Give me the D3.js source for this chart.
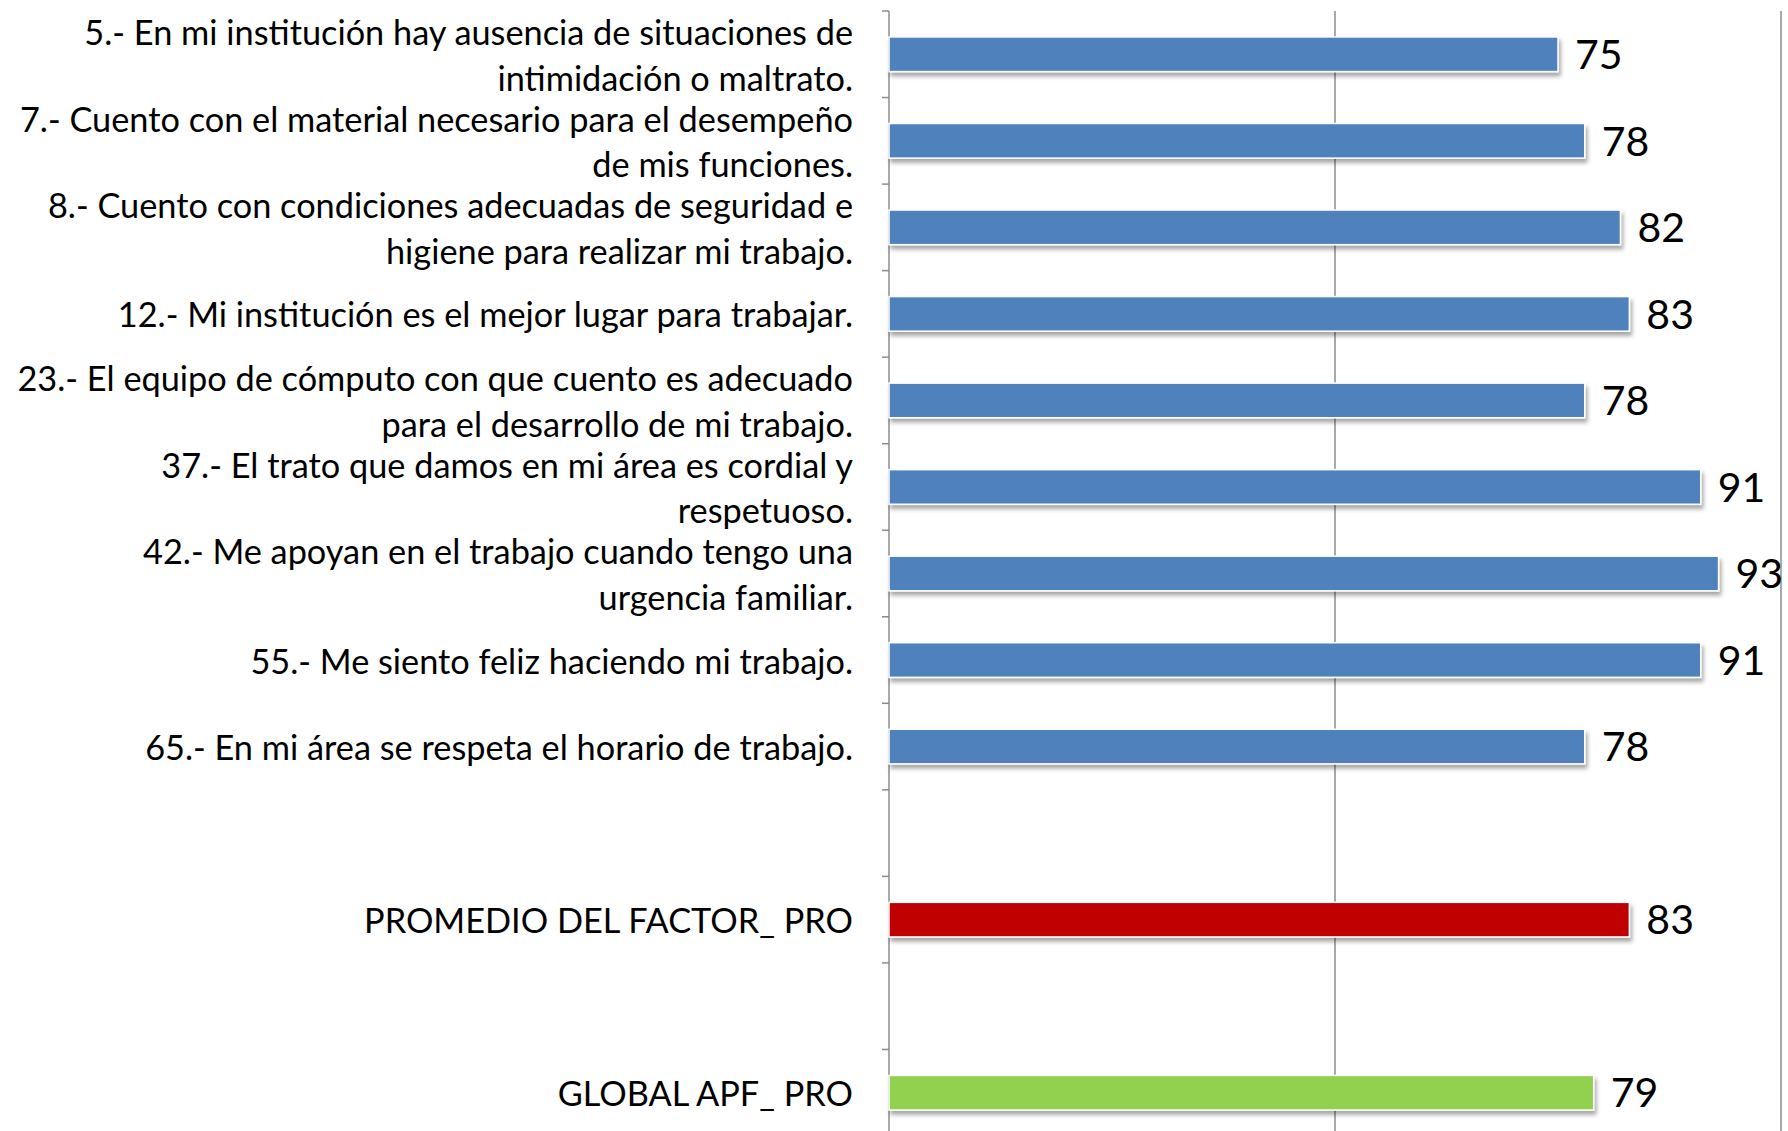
<!DOCTYPE html>
<html>
<head>
<meta charset="utf-8">
<script src="https://cdn.jsdelivr.net/npm/d3@7"></script>
<style>
body { margin: 0; background: #fff; }
.label { font-family: Lato, sans-serif; font-size: 34.3px; fill: #000; }
.value { font-family: Lato, sans-serif; font-size: 41px; fill: #000; }
.grid line { stroke: #8c8c8c; stroke-width: 1.5px; }
.axis line { stroke: #8c8c8c; stroke-width: 1.5px; }
</style>
</head>
<body>
<svg id="chart" width="1788" height="1131"></svg>
<script>

/// Categories (top to bottom), blanks are spacer rows
var keys = ["q5", "q7", "q8", "q12", "q23", "q37", "q42", "q55", "q65", "gap1", "factor", "gap2", "global"];
var labels = [
  ["5.- En mi institución hay ausencia de situaciones de", "intimidación o maltrato."],
  ["7.- Cuento con el material necesario para el desempeño", "de mis funciones."],
  ["8.- Cuento con condiciones adecuadas de seguridad e", "higiene para realizar mi trabajo."],
  ["12.- Mi institución es el mejor lugar para trabajar."],
  ["23.- El equipo de cómputo con que cuento es adecuado", "para el desarrollo de mi trabajo."],
  ["37.- El trato que damos en mi área es cordial y", "respetuoso."],
  ["42.- Me apoyan en el trabajo cuando tengo una", "urgencia familiar."],
  ["55.- Me siento feliz haciendo mi trabajo."],
  ["65.- En mi área se respeta el horario de trabajo."],
  [],
  ["PROMEDIO DEL FACTOR_ PRO"],
  [],
  ["GLOBAL APF_ PRO"]
];
var values = [75, 78, 82, 83, 78, 91, 93, 91, 78, null, 83, null, 79];
var groups = ["item", "item", "item", "item", "item", "item", "item", "item", "item", null, "factor", null, "global"];
var xTicks = [50, 100];

var data = keys.map(function(k, i) {
  return {key: k, lines: labels[i], value: values[i], group: groups[i]};
});

var svg = d3.select("#chart");

var x = d3.scaleLinear()
    .domain([0, 100])
    .range([889, 1781]);

var y = d3.scaleBand()
    .domain(keys)
    .range([11, 1136])
    .paddingInner(0.6)
    .paddingOuter(0.3);

var color = d3.scaleOrdinal()
    .domain(["item", "factor", "global"])
    .range(["#4f81bd", "#c00000", "#92d050"]);

/// Drop shadow for the bars
svg.append("defs").append("filter")
    .attr("id", "shadow")
    .attr("x", "-5%").attr("y", "-30%")
    .attr("width", "110%").attr("height", "180%")
  .append("feDropShadow")
    .attr("dx", 2).attr("dy", 4)
    .attr("stdDeviation", 2)
    .attr("flood-color", "#000")
    .attr("flood-opacity", 0.35);

/// Vertical grid lines
svg.append("g")
    .attr("class", "grid")
  .selectAll("line")
  .data(xTicks)
  .join("line")
    .attr("x1", function(d) { return x(d); })
    .attr("x2", function(d) { return x(d); })
    .attr("y1", y.range()[0])
    .attr("y2", y.range()[1]);

/// Left axis, ticks sit between categories
var gap = (y.step() - y.bandwidth()) / 2;
var boundaries = keys.map(function(k) { return y(k) - gap; });
boundaries.push(y.range()[1]);

var axis = svg.append("g").attr("class", "axis");
axis.append("line")
    .attr("x1", x(0)).attr("x2", x(0))
    .attr("y1", y.range()[0]).attr("y2", y.range()[1]);
axis.selectAll(".tick")
  .data(boundaries)
  .join("line")
    .attr("class", "tick")
    .attr("x1", x(0) - 7).attr("x2", x(0))
    .attr("y1", function(d) { return d; })
    .attr("y2", function(d) { return d; });

/// Bars
var bars = data.filter(function(d) { return d.value != null; });

svg.append("g")
  .selectAll("rect")
  .data(bars)
  .join("rect")
    .attr("x", x(0))
    .attr("y", function(d) { return y(d.key); })
    .attr("width", function(d) { return x(d.value) - x(0); })
    .attr("height", y.bandwidth())
    .attr("fill", function(d) { return color(d.group); })
    .attr("stroke", "#ffffff")
    .attr("stroke-width", 1.5)
    .attr("filter", "url(#shadow)");

/// Value labels
svg.append("g")
  .selectAll("text")
  .data(bars)
  .join("text")
    .attr("class", "value")
    .attr("x", function(d) { return x(d.value) + 17; })
    .attr("y", function(d) { return y(d.key) + y.bandwidth() / 2; })
    .attr("dy", "0.36em")
    .text(function(d) { return d.value; });

/// Category labels, wrapped lines centred on the band
var lineH = 45.5;
svg.append("g")
  .selectAll("text")
  .data(data)
  .join("text")
    .attr("class", "label")
    .attr("text-anchor", "end")
  .selectAll("tspan")
  .data(function(d) {
    var n = d.lines.length, c = y(d.key) + y.bandwidth() / 2;
    return d.lines.map(function(t, i) { return {t: t, y: c + (i - (n - 1) / 2) * lineH}; });
  })
  .join("tspan")
    .attr("x", x(0) - 36)
    .attr("y", function(d) { return d.y; })
    .attr("dominant-baseline", "central")
    .text(function(d) { return d.t; });

</script>
</body>
</html>
